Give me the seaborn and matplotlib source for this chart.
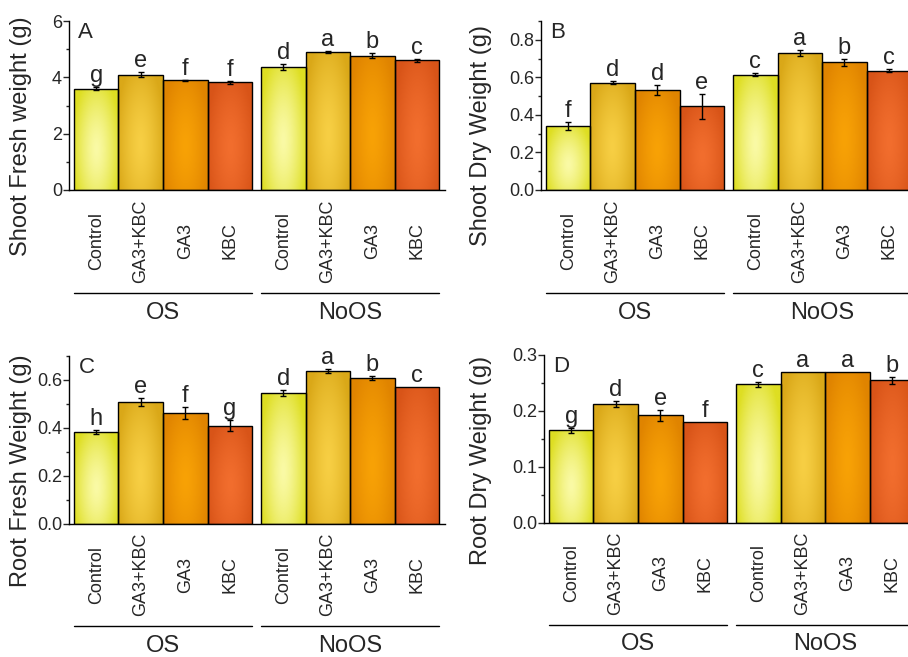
import numpy as np
import pandas as pd
import seaborn as sns
import matplotlib.pyplot as plt
from matplotlib.colors import to_rgb
from matplotlib.ticker import MultipleLocator, FormatStrFormatter
import matplotlib.transforms as mtransforms

sns.set_style("ticks")
plt.rcParams['font.family'] = ['Liberation Sans', 'DejaVu Sans']

# ---- data ----
treatments = ["Control", "GA3+KBC", "GA3", "KBC"]
groups = ["OS", "NoOS"]
positions = [0, 1, 2, 3, 4.2, 5.2, 6.2, 7.2]

shoot_fw = [3.60, 4.10, 3.90, 3.82, 4.37, 4.90, 4.77, 4.60]
shoot_fw_err = [0.06, 0.08, 0.02, 0.05, 0.12, 0.04, 0.08, 0.05]
shoot_fw_let = ["g", "e", "f", "f", "d", "a", "b", "c"]

shoot_dw = [0.34, 0.572, 0.533, 0.445, 0.615, 0.73, 0.68, 0.635]
shoot_dw_err = [0.022, 0.01, 0.028, 0.065, 0.008, 0.015, 0.02, 0.007]
shoot_dw_let = ["f", "d", "d", "e", "c", "a", "b", "c"]

root_fw = [0.382, 0.508, 0.463, 0.41, 0.546, 0.636, 0.608, 0.571]
root_fw_err = [0.008, 0.015, 0.024, 0.023, 0.012, 0.008, 0.009, 0.0]
root_fw_let = ["h", "e", "f", "g", "d", "a", "b", "c"]

root_dw = [0.165, 0.212, 0.192, 0.18, 0.247, 0.27, 0.27, 0.254]
root_dw_err = [0.005, 0.005, 0.01, 0.0, 0.005, 0.0, 0.0, 0.006]
root_dw_let = ["g", "d", "e", "f", "c", "a", "a", "b"]

edge_colors = ["#dede22", "#daa818", "#e08400", "#d85418"]
center_colors = ["#fafaa6", "#f7cf44", "#f8a206", "#f26e2e"]

panels = [
    ("A", "Shoot Fresh weight (g)", shoot_fw, shoot_fw_err, shoot_fw_let, 6, 2, 1, "%d"),
    ("B", "Shoot Dry Weight (g)", shoot_dw, shoot_dw_err, shoot_dw_let, 0.9, 0.2, 0.1, "%.1f"),
    ("C", "Root Fresh Weight (g)", root_fw, root_fw_err, root_fw_let, 0.7, 0.2, 0.1, "%.1f"),
    ("D", "Root Dry Weight (g)", root_dw, root_dw_err, root_dw_let, 0.3, 0.1, 0.05, "%.1f"),
]

# axes rectangles in figure fraction
W, H = 908, 657
rects = [
    (69 / W, 1 - 190 / H, 376 / W, 169 / H),
    (541 / W, 1 - 190 / H, 376 / W, 169 / H),
    (69 / W, 1 - 524 / H, 376 / W, 168 / H),
    (544 / W, 1 - 522.7 / H, 376 / W, 168 / H),
]
ylabel_pos = [(-0.098, 0.32), (-0.13, 0.325), (-0.098, 0.32), (-0.138, 0.37)]

fig = plt.figure(figsize=(9.08, 6.57), dpi=100)

for (letter, ylabel, vals, errs, lets, ymax, major, minor, fmt), rect, ylp in zip(panels, rects, ylabel_pos):
    ax = fig.add_axes(rect)
    df = pd.DataFrame({
        "pos": positions,
        "value": vals,
        "treatment": treatments * 2,
    })
    sns.barplot(data=df, x="pos", y="value", hue="treatment", hue_order=treatments,
                palette=edge_colors, native_scale=True, dodge=False, width=1,
                edgecolor="black", linewidth=1, errorbar=None, legend=False, ax=ax)

    # radial gradient fill inside each bar
    ny, nx = 120, 60
    yy, xx = np.mgrid[0:1:ny * 1j, 0:1:nx * 1j]
    for p in ax.patches:
        h = p.get_height()
        if h <= 0:
            continue
        cx = p.get_x() + p.get_width() / 2
        idx = int(np.argmin([abs(cx - q) for q in positions])) % 4
        c_edge = np.array(to_rgb(edge_colors[idx]))
        c_mid = np.array(to_rgb(center_colors[idx]))
        r = np.sqrt(((xx - 0.5) / 0.55) ** 2 + ((yy - 0.4) / 0.75) ** 2)
        t = np.clip(r, 0, 1) ** 1.4
        img = c_mid[None, None, :] * (1 - t[..., None]) + c_edge[None, None, :] * t[..., None]
        im = ax.imshow(img, extent=(p.get_x(), p.get_x() + p.get_width(), 0, h),
                       origin="lower", aspect="auto", zorder=1.5, interpolation="bilinear")
        im.set_clip_path(p)
        p.set_facecolor("none")
        p.set_zorder(2)

    # error bars only where there is a visible error
    has_err = [e > 0 for e in errs]
    ax.errorbar([x for x, k in zip(positions, has_err) if k],
                [v for v, k in zip(vals, has_err) if k],
                yerr=[e for e, k in zip(errs, has_err) if k],
                fmt="none", ecolor="black", elinewidth=1, capsize=2.5,
                capthick=1, zorder=3)

    for x, v, e, l in zip(positions, vals, errs, lets):
        ax.annotate(l, (x, v + e), xytext=(0, 0), textcoords="offset points",
                    ha="center", va="bottom", fontsize=17)

    ax.set_xlim(-0.61, 7.83)
    ax.set_ylim(0, ymax)
    ax.yaxis.set_major_locator(MultipleLocator(major))
    ax.yaxis.set_minor_locator(MultipleLocator(minor))
    ax.yaxis.set_major_formatter(FormatStrFormatter(fmt))
    ax.tick_params(axis="y", which="major", length=4, width=1, labelsize=13, pad=1)
    ax.tick_params(axis="y", which="minor", length=2, width=1)
    ax.set_xticks([])
    ax.set_xlabel("")
    ax.set_ylabel(ylabel, fontsize=17)
    ax.yaxis.set_label_coords(*ylp)
    sns.despine(ax=ax)
    for s in ["left", "bottom"]:
        ax.spines[s].set_linewidth(1)
        ax.spines[s].set_color("black")

    ax.text(0.025, 0.995, letter, transform=ax.transAxes, ha="left", va="top", fontsize=16)

    trans = mtransforms.blended_transform_factory(ax.transData, ax.transAxes)
    for x, name in zip(positions, treatments * 2):
        ax.text(x, -0.302, name, transform=trans, rotation=90, ha="center",
                va="center", fontsize=13)
    for g, gname in enumerate(groups):
        x0 = positions[g * 4] - 0.5
        x1 = positions[g * 4 + 3] + 0.5
        ax.plot([x0, x1], [-0.61, -0.61], transform=trans, color="black",
                lw=1, clip_on=False)
        ax.text((x0 + x1) / 2, -0.725, gname, transform=trans, ha="center",
                va="center", fontsize=17)

fig.savefig("out.png", dpi=100)
